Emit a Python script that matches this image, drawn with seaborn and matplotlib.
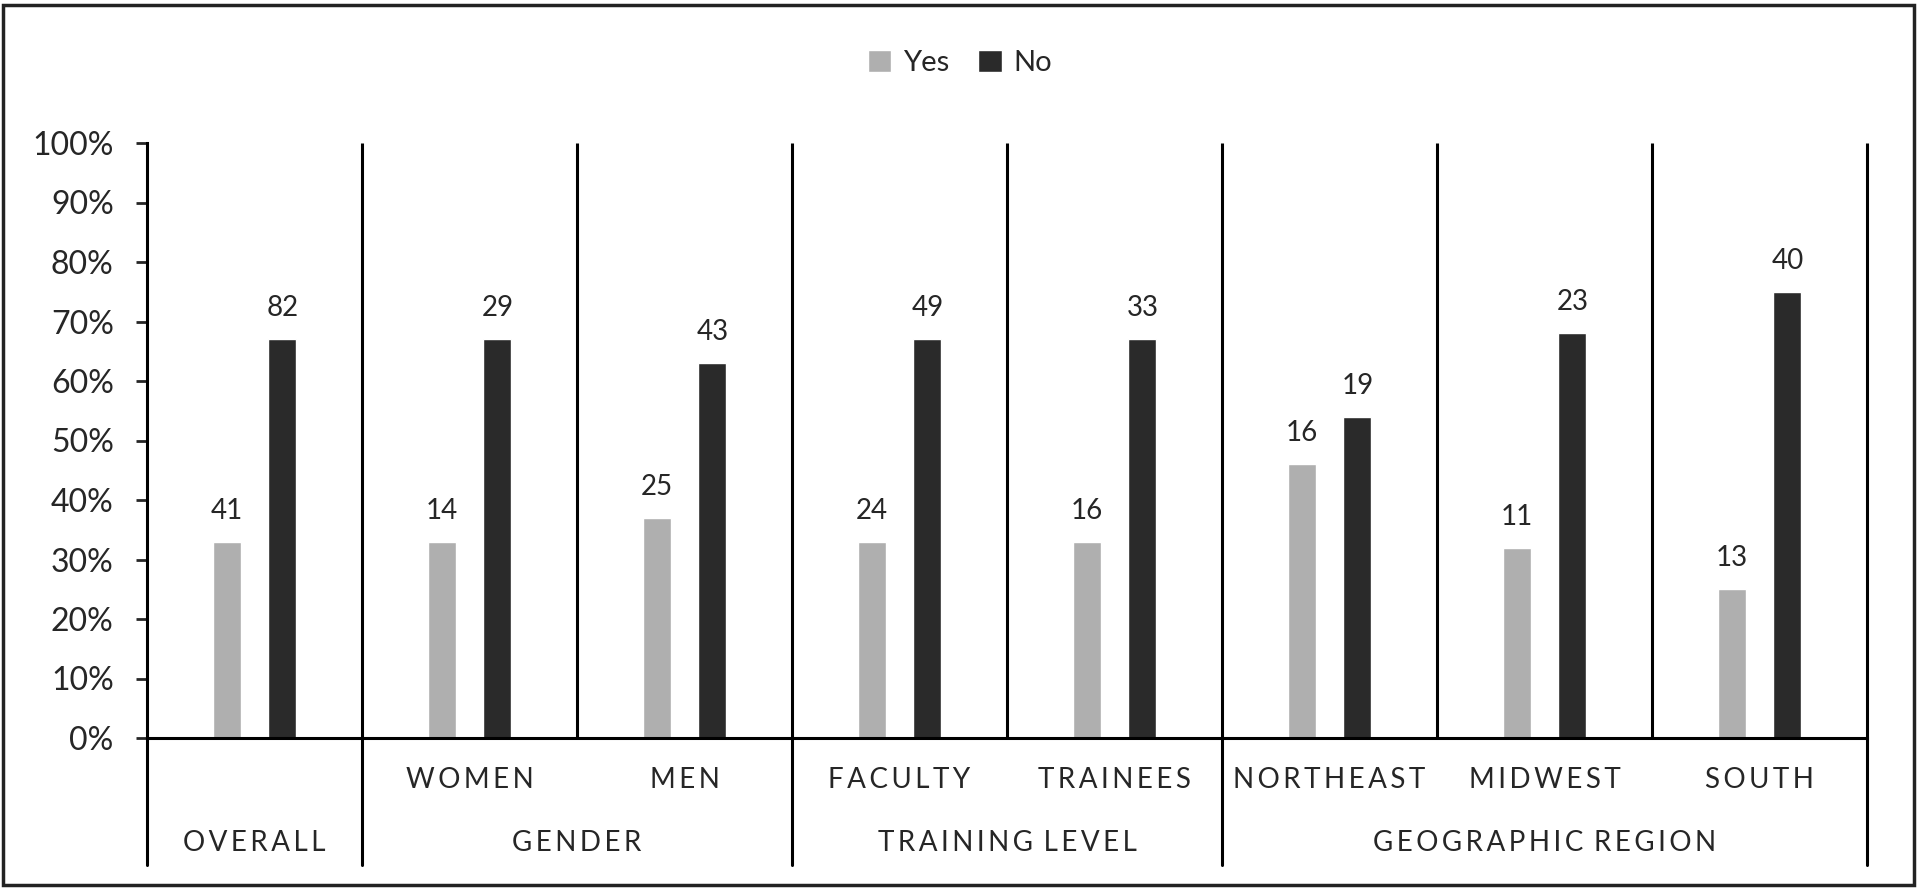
import matplotlib
matplotlib.use("Agg")
import matplotlib.pyplot as plt
import matplotlib.transforms as mtransforms
from matplotlib.patches import Rectangle
from matplotlib.ticker import PercentFormatter
import pandas as pd
import seaborn as sns

# Data
categories = ["Overall", "Women", "Men", "Faculty", "Trainees", "Northeast", "Midwest", "South"]
sub_labels = ["", "WOMEN", "MEN", "FACULTY", "TRAINEES", "NORTHEAST", "MIDWEST", "SOUTH"]
group_labels = ["OVERALL", "GENDER", "TRAINING LEVEL", "GEOGRAPHIC REGION"]
group_starts = [0, 1, 3, 5, 8]   # category index where each group begins (last = end)
yes_pct = [0.33, 0.33, 0.37, 0.33, 0.33, 0.46, 0.32, 0.25]
no_pct = [0.67, 0.67, 0.63, 0.67, 0.67, 0.54, 0.68, 0.75]
yes_n = [41, 14, 25, 24, 16, 16, 11, 13]
no_n = [82, 29, 43, 49, 33, 19, 23, 40]

df = pd.DataFrame({
    "category": categories * 2,
    "response": ["Yes"] * len(categories) + ["No"] * len(categories),
    "pct": yes_pct + no_pct,
})


def spaced(text):
    # poor man's letter spacing with thin spaces
    return "\u2009 ".join("\u2009".join(word) for word in text.split(" "))


sns.set_style("white")
plt.rcParams["font.family"] = ["Lato", "DejaVu Sans"]

fig = plt.figure(figsize=(19.2, 8.91), dpi=100)
ax = fig.add_axes([147 / 1920, 1 - 738 / 891, (1867 - 147) / 1920, (738 - 143) / 891])

sns.barplot(data=df, x="category", y="pct", hue="response", order=categories,
            hue_order=["Yes", "No"], palette=["#AFAFAF", "#2A2A2A"],
            width=0.52, gap=0.5, ax=ax, saturation=1)

for cont, counts in zip(ax.containers, [yes_n, no_n]):
    ax.bar_label(cont, labels=[str(c) for c in counts], padding=13, fontsize=20)

ax.set_ylim(0, 1)
ax.set_xlim(-0.5, len(categories) - 0.5)
ax.set_yticks([i / 10 for i in range(11)])
ax.yaxis.set_major_formatter(PercentFormatter(1.0, decimals=0))
ax.tick_params(axis="y", labelsize=23, length=8, width=2, pad=16, left=True)
ax.tick_params(axis="x", bottom=False, labelbottom=False)
ax.set_xlabel("")
ax.set_ylabel("")

for side in ["top", "right"]:
    ax.spines[side].set_visible(False)
ax.spines["left"].set_linewidth(2.2)
ax.spines["bottom"].set_linewidth(2.2)
ax.spines["left"].set_color("black")
ax.spines["bottom"].set_color("black")

# separators inside the plot area
for i in range(1, len(categories) + 1):
    ax.vlines(i - 0.5, 0, 1, color="black", linewidth=2.2, clip_on=False)

# separators below the axis at group boundaries
trans = mtransforms.blended_transform_factory(ax.transData, ax.transAxes)
for g in group_starts:
    ax.plot([g - 0.5, g - 0.5], [0, -0.214], color="black", linewidth=2.2,
            transform=trans, clip_on=False)

for i, lab in enumerate(sub_labels):
    if lab:
        ax.text(i, -0.071, spaced(lab), transform=trans, ha="center", va="center",
                fontsize=20)
for k, lab in enumerate(group_labels):
    center = (group_starts[k] + group_starts[k + 1] - 1) / 2
    ax.text(center, -0.177, spaced(lab), transform=trans, ha="center", va="center",
            fontsize=20)

handles, labels = ax.get_legend_handles_labels()
ax.legend_.remove()
fig.legend(handles, labels, loc="center", bbox_to_anchor=(0.5, 1 - 63 / 891), ncol=2,
           frameon=False, fontsize=21, handlelength=0.8, handleheight=0.8,
           handletextpad=0.4, columnspacing=1.0)

# outer border
fig.patches.append(Rectangle((3 / 1920, 1 - 885 / 891), 1911 / 1920, 880 / 891,
                             transform=fig.transFigure, fill=False,
                             edgecolor="#222222", linewidth=2.5))

fig.savefig("out.png", dpi=100)
